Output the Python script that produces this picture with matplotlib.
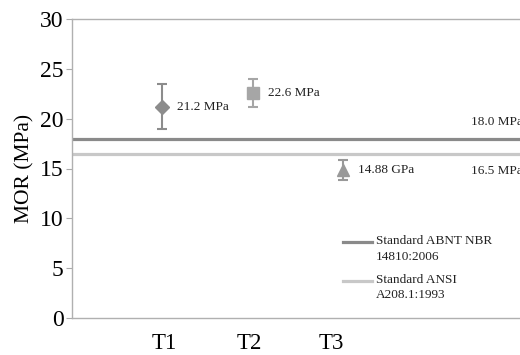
import matplotlib
matplotlib.use('Agg')
import matplotlib.pyplot as plt
from matplotlib.lines import Line2D

plt.rcParams['font.family'] = ['Liberation Serif', 'DejaVu Serif']

# data
groups = ['T1', 'T2', 'T3']
mor = [21.2, 22.6, 14.88]
err = [2.25, 1.4, 1.0]
labels = ['21.2 MPa', '22.6 MPa', '14.88 GPa']
markers = ['D', 's', '^']
msizes = [7.5, 8.5, 9]
colors = ['#8c8c8c', '#a6a6a6', '#999999']

std_values = [18.0, 16.5]
std_names = ['Standard ABNT NBR\n14810:2006', 'Standard ANSI\nA208.1:1993']
std_text = ['18.0 MPa', '16.5 MPa']
std_colors = ['#8a8a8a', '#c8c8c8']

fig = plt.figure(figsize=(5.2, 3.55), dpi=100)
ax = fig.add_axes([72 / 520, 37 / 355, 1.0, 299 / 355])

xpos = [1, 2, 3]
for x, y, e, m, ms, c, lab in zip(xpos, mor, err, markers, msizes, colors, labels):
    ax.errorbar(x, y, yerr=e, fmt=m, color=c, ecolor=c, markersize=ms,
                capsize=3.5, elinewidth=1.5, capthick=1.5)
    ax.text(x + 0.165, y, lab, fontsize=9.5, va='center', ha='left', color='#222222')

for v, c in zip(std_values, std_colors):
    ax.axhline(v, color=c, lw=2.3, zorder=1)
ax.text(4.41, std_values[0] + 1.65, std_text[0], fontsize=9.5, va='center', color='#222222')
ax.text(4.41, std_values[1] - 1.75, std_text[1], fontsize=9.5, va='center', color='#222222')

# legend drawn by hand so the line sits on the first text line
leg_y = [0.254, 0.124]
for ly, name, c in zip(leg_y, std_names, std_colors):
    ax.add_line(Line2D([0.521, 0.577], [ly, ly], transform=ax.transAxes, color=c, lw=2.3))
    ax.text(0.584, ly, name, transform=ax.transAxes, fontsize=9.5, va='top',
            ha='left', linespacing=1.35, color='#222222',
            bbox=None).set_y(ly + 0.022)

ax.set_xlim(0, 5.75)
ax.set_ylim(0, 30)
ax.set_yticks([0, 5, 10, 15, 20, 25, 30])
ax.set_xticks([1.02, 1.96, 2.87])
ax.set_xticklabels(groups)
ax.tick_params(axis='x', length=0, pad=11, labelsize=16.5)
ax.tick_params(axis='y', length=4, color='#aaaaaa', labelsize=17, pad=2)
ax.set_ylabel('MOR (MPa)', fontsize=15.5, labelpad=4)
for s in ['left', 'bottom', 'top', 'right']:
    ax.spines[s].set_color('#b0b0b0')
    ax.spines[s].set_linewidth(1)

fig.savefig('out.png', dpi=100)
